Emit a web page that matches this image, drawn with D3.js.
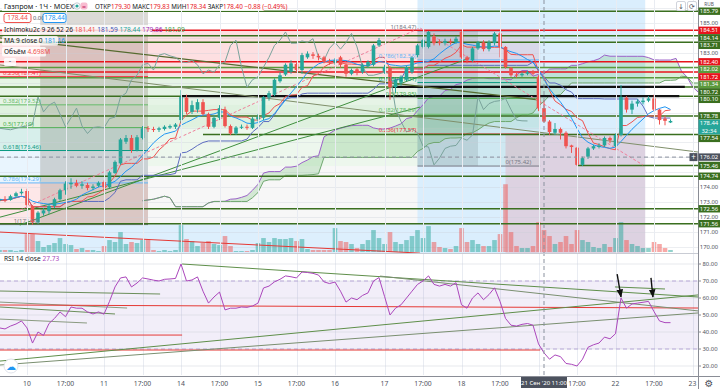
<!DOCTYPE html>
<html>
<head>
<meta charset="utf-8">
<script src="https://d3js.org/d3.v7.min.js"></script>
<style>
  body { margin: 0; background: #fff; }
  svg { display: block; font-family: "Noto Sans", "DejaVu Sans", sans-serif; }
</style>
</head>
<body>
<svg id="chart" width="720" height="389"></svg>
<script>
//////// Data (1h bars, GAZP) ////////
const opens = [173.10,173.20,173.15,173.40,173.60,173.75,172.75,171.65,172.25,172.40,
  172.75,173.20,173.80,174.20,174.30,174.10,174.15,173.95,174.10,174.35,
  174.00,174.95,175.60,177.05,177.30,176.50,177.30,177.95,177.90,177.85,
  177.90,178.00,178.05,178.50,180.00,179.05,179.20,179.70,178.90,178.05,
  178.65,179.20,178.10,177.60,178.00,178.05,177.98,178.55,178.65,180.00,
  180.20,181.10,181.55,181.75,182.25,181.85,182.70,182.90,182.80,182.70,
  182.45,182.35,182.70,182.20,181.60,181.90,181.70,182.10,182.20,183.50,
  181.75,182.00,180.70,181.00,181.20,181.70,182.85,183.40,183.40,184.10,
  183.75,183.65,183.80,183.70,184.40,182.70,182.50,183.30,183.70,183.25,
  183.65,184.30,183.40,182.00,181.55,181.50,181.60,181.75,181.40,179.30,
  178.40,177.65,177.90,177.65,176.80,176.65,175.50,176.05,176.60,176.70,
  176.80,177.30,176.75,177.50,180.00,179.20,179.60,179.70,179.80,179.95,
  179.20,178.60,178.34];
const highs = [173.30,173.40,173.50,173.70,173.90,173.90,172.80,172.40,172.60,172.90,
  173.30,173.90,174.40,174.60,174.50,174.40,174.30,174.20,174.40,174.45,
  175.10,175.80,177.30,177.50,177.50,177.50,178.10,178.10,178.05,178.05,
  178.15,178.20,178.30,180.50,180.20,179.80,179.90,179.90,179.00,178.80,
  179.50,179.40,178.20,178.10,178.20,178.20,178.70,178.90,180.10,180.45,
  181.30,181.70,182.30,182.50,182.40,183.00,183.10,183.05,182.95,182.80,
  182.60,182.65,182.80,182.30,181.95,182.00,182.30,182.50,183.60,184.00,
  182.20,182.10,181.30,181.50,182.15,182.80,183.60,183.95,184.47,184.30,
  183.90,183.95,183.95,184.10,184.45,182.80,183.40,183.80,183.85,183.85,
  184.40,184.40,183.45,182.05,181.70,181.70,181.80,181.85,181.50,179.83,
  178.50,178.30,178.00,177.75,176.85,176.70,176.05,176.70,176.85,176.95,
  177.40,177.40,177.60,180.85,180.10,179.80,179.90,180.00,180.10,180.20,
  179.25,178.80,178.55];
const lows = [172.90,173.00,173.10,173.30,173.50,172.70,171.50,171.55,172.10,172.20,
  172.60,173.10,173.50,173.90,174.00,173.90,173.80,173.80,174.00,173.70,
  173.95,174.90,175.50,176.90,176.30,176.40,177.20,177.70,177.70,177.70,
  177.80,177.90,177.90,178.30,178.90,178.90,179.00,178.80,177.90,177.95,
  178.50,178.00,177.50,177.50,177.90,177.85,177.90,178.40,178.50,179.80,
  180.10,181.00,181.45,181.60,181.70,181.60,182.60,182.60,182.50,182.30,
  182.20,182.20,182.00,181.40,181.50,181.50,181.60,182.00,182.10,183.40,
  181.60,179.86,180.30,180.80,181.10,181.60,182.70,183.30,183.30,183.50,
  183.50,183.50,183.55,183.60,182.60,182.30,182.40,183.20,183.10,183.10,
  183.50,182.70,181.95,181.40,181.35,181.40,181.50,181.50,179.10,178.34,
  177.50,177.50,177.20,176.60,176.30,175.42,175.42,175.90,176.50,176.60,
  176.70,176.95,176.70,177.40,179.00,178.90,179.40,179.55,179.70,179.10,
  178.20,178.15,178.30];
const closes = [173.20,173.10,173.40,173.60,173.70,172.80,171.65,172.30,172.45,172.75,
  173.20,173.80,174.25,174.30,174.10,174.20,173.95,174.05,174.30,174.00,
  175.00,175.70,177.20,177.30,176.50,177.35,177.95,177.90,177.85,177.95,
  178.05,178.10,178.20,180.05,179.05,179.50,179.70,178.90,178.05,178.65,
  179.30,178.10,177.60,178.00,178.05,177.98,178.60,178.70,180.05,180.30,
  181.20,181.50,182.20,182.30,181.85,182.85,182.95,182.80,182.70,182.40,
  182.35,182.50,182.20,181.60,181.85,181.70,182.20,182.40,183.50,183.85,
  182.05,180.70,181.20,181.40,182.05,182.70,183.50,183.85,184.40,183.65,
  183.65,183.80,183.70,183.95,182.70,182.50,183.30,183.70,183.25,183.70,
  184.30,183.40,182.05,181.50,181.50,181.60,181.70,181.60,179.28,178.40,
  177.70,177.90,177.65,176.75,176.70,175.50,175.95,176.60,176.75,176.80,
  177.30,177.15,177.50,180.05,179.20,179.60,179.75,179.80,179.95,179.20,
  178.50,178.45,178.44];
// volume, millions
const volumes = [0.43,0.43,0.43,0.21,0.43,3.84,3.84,2.35,1.07,1.49,
  1.92,2.99,1.71,1.49,0.64,0.85,0.43,0.43,0.21,1.28,
  2.56,2.14,4.27,1.71,2.14,1.92,2.56,2.78,0.43,0.21,
  0.43,0.21,0.43,5.76,2.78,2.35,1.28,1.92,2.35,1.71,
  1.49,3.42,1.28,0.21,0.21,0.21,0.43,1.92,2.99,2.14,
  2.99,2.78,2.78,2.99,2.35,2.78,0.64,0.43,0.43,0.43,
  0.43,5.12,2.35,2.14,1.71,0.85,1.71,2.56,4.70,2.99,
  1.71,4.27,2.14,1.71,2.56,3.42,4.70,2.99,5.55,2.14,
  1.07,0.85,0.64,1.28,5.12,2.14,2.56,1.71,1.28,1.28,
  2.56,3.84,14.52,4.27,1.28,0.85,0.85,1.28,6.41,4.698,
  3.42,1.71,2.14,3.42,1.71,4.70,2.56,2.14,1.07,0.85,
  1.71,1.07,2.99,6.41,2.56,1.71,1.28,0.85,0.85,2.14,
  1.71,0.85,0.43];
const rsiValues = [42.4,41.8,43.5,44.7,46.5,42.4,33.5,40,38,45,
  48,51.8,49,54.7,54,54,51.8,50.6,51.8,50.5,
  58,66.5,71.8,72.4,66.5,68.8,71.8,71.2,70.5,70,
  71,71.2,71.5,80,70,70.6,72.4,64,57,60.6,
  63.5,53,54,54,54.7,54.5,55.3,57,65.9,67,
  69.5,71,73,72.5,71.8,75.3,75,74.5,73.5,69.5,
  68.5,69.4,64,57.6,60,59,61.5,63,70,72,
  61,50,54,56,60,64,68,70,73,68,
  67,68,67,69,56,54,60,63,59,62,
  66,58,48,44,43.5,44.5,45,44,33,27.73,
  24,26.5,25.5,21.5,21,20,24,31,32.5,33.5,
  37,36,39,60,54,56.5,57,57.5,58,52,
  46.5,45.5,45.5];

// time axis: [bar index, label]
const timeTicks = [[5,"10"],[12,"17:00"],[19,"11"],[26,"17:00"],[33,"14"],[40,"17:00"],
  [47,"15"],[54,"17:00"],[61,"16"],[70,"17"],[77,"17:00"],[84,"18"],[91,"17:00"],
  [98,"21"],[105,"17:00"],[112,"22"],[119,"17:00"],[126,"23"]];
const priceTicks = d3.range(170, 187);
const rsiTicks = [20, 30, 40, 50, 60, 70, 80];

// horizontal levels drawn by hand: price, colour, first bar
const levelPrices = [185.79,184.51,184.14,183.71,182.40,182.02,181.72,181.34,180.72,180.10,178.78,177.54,175.46,174.74,172.56,171.56];
const levelKinds  = ["g","r","g","g","r","l","r","l","g","g","g","g","g","g","g","g"];
const levelStarts = [0,0,0,0,0,0,0,0,0,0,0,37,105,0,0,0];
// black segments: [price, from bar, to bar]
const blackLines = [[180.10, 33, 123.6], [180.72, 71.4, 124.6]];

// fibonacci tools
const fibRatios = [0, 0.236, 0.382, 0.5, 0.618, 0.786, 1];
const fibColors = ["#787b86","#f23645","#66bb6a","#4caf50","#089981","#64b5f6","#787b86"];
const fibLeftPrices  = [184.48,181.41,179.52,177.99,176.46,174.29,171.50];
const fibRightPrices = [184.47,182.53,181.01,179.95,178.89,177.57,175.42];

// shaded drawings: bar from, bar to, top price, bottom price, fill
const zoneBars   = [[0,98.3],[0,98.3],[0,98.3],[0,27],[0,27],[0,27],[27,98.3],[27,76],[0,76],[7.4,27],[76,87],[76,117.4],[92,117.4]];
const zonePrices = [[184.48,181.42],[181.42,179.52],[179.52,177.99],[177.99,176.46],[176.46,174.29],[174.29,171.5],
  [177.99,175.42],[175.42,171.56],[171.56,169.4],[185.9,171.5],[184.47,175.42],[187,169.4],[177.6,169.4]];
const zoneFills  = ["rgba(242,54,69,0.16)","rgba(129,199,132,0.2)","rgba(76,175,80,0.18)","rgba(8,153,129,0.16)",
  "rgba(100,181,246,0.14)","rgba(242,54,69,0.12)","rgba(76,175,80,0.1)","rgba(120,120,120,0.06)",
  "rgba(144,202,249,0.3)","rgba(95,85,70,0.22)","rgba(95,85,70,0.2)","rgba(144,202,249,0.33)","rgba(242,54,69,0.15)"];

// trend lines, points as [bar, price]
const trendMain = [
  {pts: [[0.09,184.0],[98.3,179.84]], color: "#556b2f", w: 1.2},
  {pts: [[0.09,182.19],[127,176.36]], color: "#7f8f6a", w: 1},
  {pts: [[3.7,171.47],[85.5,182.66]], color: "#3f8f3f", w: 1},
  {pts: [[0.09,172.0],[76.45,179.37]], color: "#3f8f3f", w: 1},
  {pts: [[0.09,171.0],[76.45,169.59]], color: "#e53935", w: 1},
  {pts: [[3.7,172.47],[76.45,184.67],[117,175.49]], color: "#ef7f9a", w: 1, dash: "3,2"}
];
// trend lines in RSI pane, points as [bar, rsi]
const trendRsi = [
  {pts: [[0.09,64.1],[29.2,62.35]], color: "#6b8e5a"},
  {pts: [[0.09,57.6],[23.2,54.1]], color: "#8a9a80"},
  {pts: [[0.09,54.7],[21,50.6]], color: "#6b8e5a"},
  {pts: [[0.09,47.6],[15.9,45.3]], color: "#8a9a80"},
  {pts: [[0.09,55.9],[127,54.1]], color: "#e53935"},
  {pts: [[0.09,38.2],[33.2,38.2]], color: "#e53935"},
  {pts: [[0.09,29.4],[98.3,29.4]], color: "#e53935"},
  {pts: [[0.09,22.9],[127,61.8]], color: "#5f8f4a"},
  {pts: [[0.09,20.6],[127,51.2]], color: "#7a8f70"},
  {pts: [[33.2,80],[127,60.6]], color: "#5f8f4a"},
  {pts: [[69.2,72.9],[127,52.4]], color: "#7a8f70"},
  {pts: [[111.9,66.5],[121,65.3]], color: "#5f8f4a"}
];
const rsiArrows = [[[112.3,74.1],[113,60.6]], [[118.45,71.8],[118.8,60.6]]];

const crossBar = 99, crossPrice = 176.02, lastPrice = 178.44;

//////// Layout ////////
const plotW = 698, mainBottom = 253, rsiTop = 254, rsiBottom = 375, axisY = 376;
const red = "#e8141c", green = "#3a6f1f", lightGreen = "#5b9a3c";
const kindColor = {r: red, g: green, l: lightGreen};

const svg = d3.select("#chart");
const x = d3.scaleLinear().domain([0, 130]).range([-0.5, 714.5]);
const yP = d3.scaleLinear().domain([185, 170]).range([23, 247]);
const yV = d3.scaleLinear().domain([0, 15]).range([252, 182]);
const yR = d3.scaleLinear().domain([70, 30]).range([281, 349]);

const defs = svg.append("defs");
defs.append("clipPath").attr("id", "clipMain").append("rect")
  .attr("width", plotW).attr("height", mainBottom);
defs.append("clipPath").attr("id", "clipRsi").append("rect")
  .attr("y", rsiTop).attr("width", plotW).attr("height", rsiBottom - rsiTop);
defs.append("marker").attr("id", "arrowHead").attr("viewBox", "0 0 10 10")
  .attr("refX", 9).attr("refY", 5).attr("markerWidth", 6).attr("markerHeight", 6)
  .attr("orient", "auto")
  .append("path").attr("d", "M0,1L10,5L0,9z").attr("fill", "#111");

svg.append("rect").attr("width", 720).attr("height", 389).attr("fill", "#fff");

//////// Indicators from the bars ////////
const n = closes.length;
const midHL = (i, len) => {
  const s = Math.max(0, i - len + 1);
  return (d3.max(highs.slice(s, i + 1)) + d3.min(lows.slice(s, i + 1))) / 2;
};
const tenkan = d3.range(n).map(i => midHL(i, 9));
const kijun = d3.range(n).map(i => midHL(i, 26));
const ma9 = d3.range(n).map(i => d3.mean(closes.slice(Math.max(0, i - 8), i + 1)));
const cloud = d3.range(n).map(i => ({i: i + 26, a: (tenkan[i] + kijun[i]) / 2, b: midHL(i, 52)}));

//////// Main pane ////////
const main = svg.append("g").attr("clip-path", "url(#clipMain)");

main.selectAll("rect.zone").data(zoneFills).join("rect")
  .attr("x", (d, k) => x(zoneBars[k][0]))
  .attr("width", (d, k) => x(zoneBars[k][1]) - x(zoneBars[k][0]))
  .attr("y", (d, k) => yP(zonePrices[k][0]))
  .attr("height", (d, k) => yP(zonePrices[k][1]) - yP(zonePrices[k][0]))
  .attr("fill", d => d);

const grid = svg.append("g").attr("stroke", "#e9ecf2").attr("stroke-width", 1);
grid.selectAll("line.v").data(timeTicks).join("line")
  .attr("x1", d => Math.round(x(d[0])) + 0.5).attr("x2", d => Math.round(x(d[0])) + 0.5)
  .attr("y1", 0).attr("y2", rsiBottom);
main.append("g").attr("stroke", "rgba(200,205,215,0.35)")
  .selectAll("line").data(priceTicks).join("line")
  .attr("x1", 0).attr("x2", plotW)
  .attr("y1", d => Math.round(yP(d)) + 0.5).attr("y2", d => Math.round(yP(d)) + 0.5);

// ichimoku cloud
main.append("path").datum(cloud)
  .attr("d", d3.area().x(d => x(d.i)).y0(d => yP(d.a)).y1(d => yP(d.b)))
  .attr("fill", "rgba(102,187,106,0.25)");
main.append("path").datum(cloud)
  .attr("d", d3.line().x(d => x(d.i)).y(d => yP(d.a)))
  .attr("fill", "none").attr("stroke", "#9c62c9").attr("stroke-width", 1);
main.append("path").datum(cloud)
  .attr("d", d3.line().x(d => x(d.i)).y(d => yP(d.b)))
  .attr("fill", "none").attr("stroke", "#6fa76f").attr("stroke-width", 1);

// volume
main.append("g").selectAll("rect").data(volumes).join("rect")
  .attr("x", (d, i) => x(i) - 2.3).attr("width", 4.6)
  .attr("y", d => yV(d)).attr("height", d => yV(0) - yV(d))
  .attr("fill", (d, i) => closes[i] >= opens[i] ? "rgba(38,166,154,0.5)" : "rgba(239,83,80,0.5)");

// fibonacci level lines
const fibG = main.append("g").attr("stroke-width", 1);
fibG.selectAll("line.l").data(fibLeftPrices).join("line")
  .attr("x1", x(0)).attr("x2", x(27))
  .attr("y1", d => yP(d)).attr("y2", d => yP(d))
  .attr("stroke", (d, k) => fibColors[k]);
fibG.selectAll("line.r").data(fibRightPrices).join("line")
  .attr("x1", x(76)).attr("x2", x(98.3))
  .attr("y1", d => yP(d)).attr("y2", d => yP(d))
  .attr("stroke", (d, k) => fibColors[6 - k]);

// horizontal levels
main.append("g").selectAll("line").data(levelPrices).join("line")
  .attr("x1", (d, k) => x(levelStarts[k])).attr("x2", plotW)
  .attr("y1", d => yP(d)).attr("y2", d => yP(d))
  .attr("stroke", (d, k) => kindColor[levelKinds[k]])
  .attr("stroke-width", 1.5);
main.append("g").selectAll("line").data(blackLines).join("line")
  .attr("x1", d => x(d[1])).attr("x2", d => x(d[2]))
  .attr("y1", d => yP(d[0])).attr("y2", d => yP(d[0]))
  .attr("stroke", "#111").attr("stroke-width", 2.2);

// trend lines
const mainLine = d3.line().x(d => x(d[0])).y(d => yP(d[1]));
main.append("g").selectAll("path").data(trendMain).join("path")
  .attr("d", d => mainLine(d.pts)).attr("fill", "none")
  .attr("stroke", d => d.color).attr("stroke-width", d => d.w)
  .attr("stroke-dasharray", d => d.dash || null);

// indicator lines
const seriesLine = (arr, shift) => d3.line().x((d, i) => x(i + shift)).y(d => yP(d))(arr);
main.append("path").attr("d", seriesLine(closes, -26))
  .attr("fill", "none").attr("stroke", "#7aa39c").attr("stroke-width", 1);
main.append("path").attr("d", seriesLine(kijun, 0))
  .attr("fill", "none").attr("stroke", "#5c6bc0").attr("stroke-width", 1);
main.append("path").attr("d", seriesLine(tenkan, 0))
  .attr("fill", "none").attr("stroke", "#ef5350").attr("stroke-width", 1);
main.append("path").attr("d", seriesLine(ma9, 0))
  .attr("fill", "none").attr("stroke", "#2196f3").attr("stroke-width", 1);

// candles
const candles = main.append("g").selectAll("g").data(closes).join("g")
  .attr("fill", (d, i) => d >= opens[i] ? "#26a69a" : "#ef5350")
  .attr("stroke", (d, i) => d >= opens[i] ? "#26a69a" : "#ef5350");
candles.append("line")
  .attr("x1", (d, i) => x(i)).attr("x2", (d, i) => x(i))
  .attr("y1", (d, i) => yP(highs[i])).attr("y2", (d, i) => yP(lows[i]))
  .attr("stroke-width", 1);
candles.append("rect")
  .attr("x", (d, i) => x(i) - 1.8).attr("width", 3.6)
  .attr("y", (d, i) => yP(Math.max(d, opens[i])))
  .attr("height", (d, i) => Math.max(1, Math.abs(yP(d) - yP(opens[i]))))
  .attr("stroke", "none");

// fib labels (level 0 of the left tool sits under the legend, so it is left out)
const fibLabels = main.append("g").attr("font-size", 6);
fibLabels.selectAll("text.l").data(fibLeftPrices.slice(1)).join("text")
  .attr("x", (d, k) => k == 5 ? x(7.3) : 3).attr("y", d => yP(d) - 2)
  .attr("text-anchor", (d, k) => k == 5 ? "end" : "start")
  .attr("fill", (d, k) => fibColors[k + 1])
  .text((d, k) => fibRatios[k + 1] + "(" + d.toFixed(2) + ")");
fibLabels.selectAll("text.r").data(fibRightPrices).join("text")
  .attr("x", (d, k) => k == 6 ? x(92) : x(75.8)).attr("y", d => yP(d) - 2)
  .attr("text-anchor", (d, k) => k == 6 ? "start" : "end")
  .attr("fill", (d, k) => fibColors[6 - k])
  .text((d, k) => fibRatios[6 - k] + "(" + d.toFixed(2) + ")");

// crosshair
main.append("line").attr("x1", 0).attr("x2", plotW)
  .attr("y1", yP(crossPrice)).attr("y2", yP(crossPrice))
  .attr("stroke", "#8a919e").attr("stroke-dasharray", "4,3");

//////// RSI pane ////////
const rsiG = svg.append("g").attr("clip-path", "url(#clipRsi)");
rsiG.append("rect").attr("x", 0).attr("width", plotW)
  .attr("y", yR(70)).attr("height", yR(30) - yR(70)).attr("fill", "rgba(126,87,194,0.1)");
rsiG.append("g").attr("stroke", "rgba(200,205,215,0.45)")
  .selectAll("line").data(rsiTicks).join("line")
  .attr("x1", 0).attr("x2", plotW).attr("y1", d => yR(d)).attr("y2", d => yR(d));
rsiG.append("g").selectAll("line").data([70, 30]).join("line")
  .attr("x1", 0).attr("x2", plotW).attr("y1", d => yR(d)).attr("y2", d => yR(d))
  .attr("stroke", "#b9a9d9").attr("stroke-dasharray", "4,3");
const rsiLine = d3.line().x(d => x(d[0])).y(d => yR(d[1]));
rsiG.append("g").selectAll("path").data(trendRsi).join("path")
  .attr("d", d => rsiLine(d.pts)).attr("fill", "none")
  .attr("stroke", d => d.color).attr("stroke-width", 1);
rsiG.append("path").attr("d", d3.line().x((d, i) => x(i)).y(d => yR(d))(rsiValues))
  .attr("fill", "none").attr("stroke", "#ab47bc").attr("stroke-width", 1);
rsiG.append("g").selectAll("path").data(rsiArrows).join("path")
  .attr("d", d => rsiLine(d)).attr("stroke", "#111").attr("stroke-width", 1.4)
  .attr("fill", "none").attr("marker-end", "url(#arrowHead)");

// vertical crosshair through both panes
svg.append("line").attr("x1", x(crossBar)).attr("x2", x(crossBar))
  .attr("y1", 0).attr("y2", axisY)
  .attr("stroke", "#8a919e").attr("stroke-dasharray", "4,3");

//////// Axes and separators ////////
svg.append("line").attr("x1", 0).attr("x2", plotW).attr("y1", 253.5).attr("y2", 253.5)
  .attr("stroke", "#c9ccd4");
svg.append("line").attr("x1", 0).attr("x2", 720).attr("y1", axisY + 0.5).attr("y2", axisY + 0.5)
  .attr("stroke", "#8a8d96");
svg.append("line").attr("x1", plotW + 0.5).attr("x2", plotW + 0.5).attr("y1", 0).attr("y2", 389)
  .attr("stroke", "#8a8d96");

// price labels with simple collision push-down
const gap = 7.5;
const labels = levelPrices.map((p, k) => ({p: p, bg: kindColor[levelKinds[k]], txt: p.toFixed(2)}))
  .concat([{p: lastPrice, bg: "#26a69a", txt: lastPrice.toFixed(2), sub: "32:34"},
           {p: crossPrice, bg: "#4c525e", txt: crossPrice.toFixed(2)}])
  .sort((a, b) => yP(a.p) - yP(b.p));
let lastY = -100;
labels.forEach(d => {
  d.ly = Math.max(yP(d.p), lastY + gap);
  lastY = d.sub ? d.ly + gap : d.ly;
});
const taken = labels.flatMap(d => d.sub ? [d.ly, d.ly + gap] : [d.ly]);

const axisG = svg.append("g").attr("font-size", 5.9).attr("text-anchor", "middle");
axisG.selectAll("text.tick").data(priceTicks.filter(t => taken.every(v => Math.abs(v - yP(t)) >= 6)))
  .join("text").attr("x", 709).attr("y", d => yP(d) + 2.1).attr("fill", "#50535e")
  .text(d => d.toFixed(2));
const lab = axisG.selectAll("g.lab").data(labels).join("g");
lab.append("rect").attr("x", 698.5).attr("width", 21.5)
  .attr("y", d => d.ly - 3.7).attr("height", d => d.sub ? 7.4 + gap : 7.4)
  .attr("fill", d => d.bg);
lab.append("text").attr("x", 709).attr("y", d => d.ly + 2.1).attr("fill", "#fff").text(d => d.txt);
lab.filter(d => d.sub).append("text").attr("x", 709).attr("y", d => d.ly + gap + 2.1)
  .attr("fill", "#fff").text(d => d.sub);
// crosshair "+" button
svg.append("rect").attr("x", 689.5).attr("y", yP(crossPrice) - 4).attr("width", 8).attr("height", 8)
  .attr("fill", "#4c525e");
svg.append("text").attr("x", 693.5).attr("y", yP(crossPrice) + 2.6).attr("text-anchor", "middle")
  .attr("font-size", 8).attr("fill", "#fff").text("+");

// rsi axis
axisG.selectAll("text.rsi").data(rsiTicks).join("text")
  .attr("x", 710).attr("y", d => yR(d) + 2.1).attr("fill", "#50535e")
  .text(d => d.toFixed(2));
svg.append("g").attr("stroke", "#8a8d96").selectAll("line").data(rsiTicks).join("line")
  .attr("x1", 698).attr("x2", 701).attr("y1", d => yR(d)).attr("y2", d => yR(d));

// time axis (the tick under the crosshair label is covered by it)
const crossX = x(crossBar);
svg.append("g").attr("font-size", 6.8).attr("text-anchor", "middle").attr("fill", "#50535e")
  .selectAll("text").data(timeTicks.filter(d => Math.abs(x(d[0]) - crossX) > 30)).join("text")
  .attr("x", d => x(d[0])).attr("y", 386).text(d => d[1]);
svg.append("rect").attr("x", crossX - 23).attr("y", 377).attr("width", 46).attr("height", 11)
  .attr("fill", "#4c525e");
svg.append("text").attr("x", crossX).attr("y", 385.3).attr("text-anchor", "middle")
  .attr("font-size", 6).attr("fill", "#fff").text("21 Сен '20   11:00");
svg.append("text").attr("x", 709).attr("y", 387).attr("text-anchor", "middle")
  .attr("font-size", 10).attr("fill", "#50535e").text("⚙");
svg.append("circle").attr("cx", 11).attr("cy", 366).attr("r", 7)
  .attr("fill", "#fff").attr("stroke", "#e0e3eb");
svg.append("text").attr("x", 11).attr("y", 369.5).attr("text-anchor", "middle")
  .attr("font-size", 10).attr("fill", "#2196f3").text("☁");

// top right buttons and currency
const btns = svg.append("g");
[["↓", 681], ["⟳", 692]].forEach(b => {
  btns.append("rect").attr("x", b[1] - 4.5).attr("y", 1.5).attr("width", 9).attr("height", 9)
    .attr("fill", "#fff").attr("stroke", "#d1d4dc").attr("rx", 1.5);
  btns.append("text").attr("x", b[1]).attr("y", 8.8).attr("text-anchor", "middle")
    .attr("font-size", 7).attr("fill", "#50535e").text(b[0]);
});
svg.append("text").attr("x", 709).attr("y", 5.6).attr("text-anchor", "middle")
  .attr("font-size", 4.8).attr("fill", "#50535e").text("RUB");

//////// Legend ////////
const leg = svg.append("g").attr("font-size", 6.6).attr("fill", "#131722");
const legendRow = (y, w, parts) => {
  leg.append("rect").attr("x", 2).attr("y", y - 7).attr("width", w).attr("height", 9.5)
    .attr("rx", 1.5).attr("fill", "rgba(255,255,255,0.8)");
  const t = leg.append("text").attr("x", 4).attr("y", y);
  parts.forEach(p => t.append("tspan").attr("fill", p[1]).text(p[0]));
};
leg.append("rect").attr("x", 2).attr("y", 1).attr("width", 262).attr("height", 10)
  .attr("fill", "rgba(255,255,255,0.85)");
leg.append("text").attr("x", 4).attr("y", 9).attr("font-size", 7.2).text("Газпром · 1Ч · MOEX");
leg.append("circle").attr("cx", 77).attr("cy", 6).attr("r", 3.2).attr("fill", "#fff").attr("stroke", "#c8ccd4");
leg.append("circle").attr("cx", 77).attr("cy", 6).attr("r", 1.6).attr("fill", "#26a69a");
leg.append("rect").attr("x", 80.5).attr("y", 2.5).attr("width", 7).attr("height", 7).attr("rx", 2).attr("fill", "#f8bbd0");
leg.append("text").attr("x", 84).attr("y", 8.5).attr("text-anchor", "middle").attr("font-size", 7)
  .attr("fill", "#c2185b").text("=");
const ohlc = leg.append("text").attr("x", 95).attr("y", 9).attr("font-size", 6.3);
[["ОТКР", "#131722"], ["179.30", red], [" МАКС", "#131722"], ["179.83", red],
 [" МИН", "#131722"], ["178.34", red], [" ЗАКР", "#131722"], ["178.40", red],
 [" −0.88 (−0.49%)", red]].forEach(p => ohlc.append("tspan").attr("fill", p[1]).text(p[0]));

leg.append("rect").attr("x", 4).attr("y", 13.5).attr("width", 27).attr("height", 9).attr("rx", 2)
  .attr("fill", "#fff").attr("stroke", "#ef5350");
leg.append("text").attr("x", 17.5).attr("y", 20.3).attr("text-anchor", "middle").attr("fill", "#ef5350").text("178.44");
leg.append("text").attr("x", 33).attr("y", 20.3).attr("font-size", 5.8).attr("fill", "#50535e").text("0.00");
leg.append("rect").attr("x", 43).attr("y", 13.5).attr("width", 23).attr("height", 9).attr("rx", 2)
  .attr("fill", "#fff").attr("stroke", "#2196f3");
leg.append("text").attr("x", 54.5).attr("y", 20.3).attr("text-anchor", "middle").attr("fill", "#2196f3").text("178.44");

legendRow(32, 150, [["Ichimoku2c 9 26 52 26 ", "#131722"], ["181.41 ", "#ef5350"], ["181.59 ", "#3f51b5"],
  ["178.44 ", "#26a69a"], ["179.86 ", "#9c27b0"], ["181.09", "#43a047"]]);
legendRow(43, 56, [["MA 9 close 0 ", "#131722"], ["181.16", "#2196f3"]]);
legendRow(54, 44, [["Объём ", "#131722"], ["4.698M", "#ef5350"]]);
leg.append("rect").attr("x", 4).attr("y", 58).attr("width", 12).attr("height", 8).attr("rx", 1.5)
  .attr("fill", "rgba(255,255,255,0.85)");
leg.append("text").attr("x", 10).attr("y", 66).attr("text-anchor", "middle").attr("font-size", 7)
  .attr("fill", "#50535e").text("ˆ");

const rsiLeg = svg.append("text").attr("x", 4).attr("y", 261).attr("font-size", 6.6);
rsiLeg.append("tspan").attr("fill", "#131722").text("RSI 14 close ");
rsiLeg.append("tspan").attr("fill", "#ab47bc").text("27.73");
</script>
</body>
</html>
